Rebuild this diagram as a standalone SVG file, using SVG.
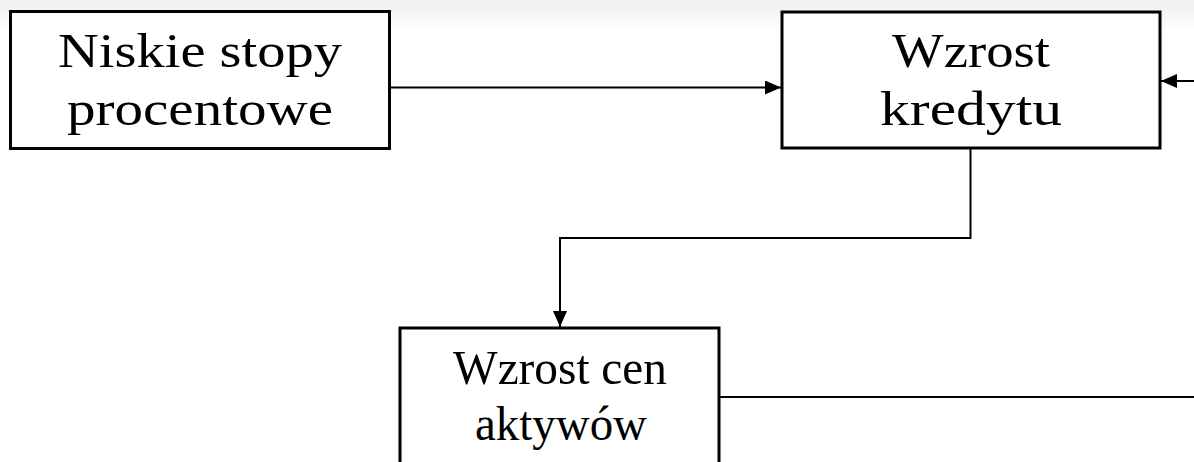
<svg xmlns="http://www.w3.org/2000/svg" width="1194" height="462" viewBox="0 0 1194 462">
<style>
.box{fill:#fff;stroke:#000;stroke-width:3}
.lbl{font-family:"Liberation Serif","Times New Roman",serif;font-size:49px;fill:#000;text-anchor:middle}
.con{fill:none;stroke:#000;stroke-width:2}
</style>
<defs>
<linearGradient id="bg" x1="0" y1="0" x2="0" y2="1">
<stop offset="0" stop-color="#f1f1f1"/>
<stop offset="0.35" stop-color="#f4f4f4"/>
<stop offset="1" stop-color="#ffffff"/>
</linearGradient>
<marker id="ah" viewBox="0 0 16 14" refX="16" refY="7" markerWidth="16" markerHeight="14" markerUnits="userSpaceOnUse" orient="auto">
<path d="M0,0 L16,7 L0,14 Z" fill="#000"/>
</marker>
</defs>
<rect width="1194" height="462" fill="#fff"/>
<rect width="1194" height="32" fill="url(#bg)"/>
<g id="connectors">
<line class="con" x1="390" y1="87.5" x2="781" y2="87.5" marker-end="url(#ah)"/>
<line class="con" x1="1194" y1="81" x2="1161" y2="81" marker-end="url(#ah)"/>
<polyline class="con" points="970.5,149 970.5,238 560,238 560,327" marker-end="url(#ah)"/>
<line class="con" x1="719" y1="397" x2="1194" y2="397"/>
</g>
<g id="node-niskie">
<rect class="box" x="10.5" y="11.5" width="379" height="137"/>
<text class="lbl" x="200" y="67" textLength="284" lengthAdjust="spacingAndGlyphs">Niskie stopy</text>
<text class="lbl" x="200" y="125" textLength="266" lengthAdjust="spacingAndGlyphs">procentowe</text>
</g>
<g id="node-kredyt">
<rect class="box" x="782" y="12" width="378" height="136"/>
<text class="lbl" x="971" y="67" textLength="158" lengthAdjust="spacingAndGlyphs">Wzrost</text>
<text class="lbl" x="971" y="125" textLength="182" lengthAdjust="spacingAndGlyphs">kredytu</text>
</g>
<g id="node-aktywa">
<rect class="box" x="400" y="328" width="319" height="150"/>
<text class="lbl" x="560" y="384" textLength="214" lengthAdjust="spacingAndGlyphs">Wzrost cen</text>
<text class="lbl" x="561" y="440" textLength="172" lengthAdjust="spacingAndGlyphs">aktywów</text>
</g>
</svg>
